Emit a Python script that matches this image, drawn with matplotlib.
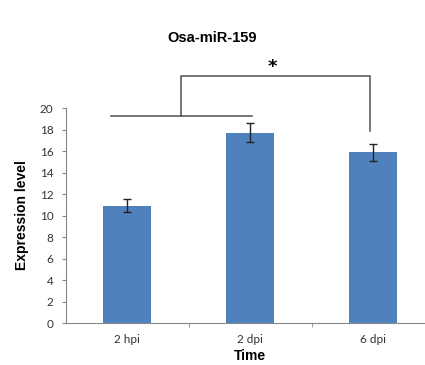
import matplotlib
matplotlib.use("Agg")
import matplotlib.pyplot as plt

# data
categories = ["2 hpi", "2 dpi", "6 dpi"]
expression = [10.9, 17.7, 15.9]
errors = [0.6, 0.9, 0.8]
yticks = list(range(0, 21, 2))

fig = plt.figure(figsize=(4.25, 3.65), dpi=100)
ax = fig.add_axes([0.155, 0.115, 0.868, 0.589])

x = list(range(len(categories)))
ax.bar(x, expression, width=0.39, color="#4F81BD", zorder=2)
ax.errorbar(x, expression, yerr=errors, fmt="none", ecolor="#222222",
            elinewidth=1.0, capsize=3, capthick=1.0, zorder=3)

ax.set_xlim(-0.5, 2.5)
ax.set_ylim(0, 20)
ax.set_yticks(yticks)
ax.set_xticks(x)
ax.set_xticklabels(categories, fontsize=8.5, family="Lato", color="#333333")
ax.set_xticks([0.5, 1.5], minor=True)
ax.tick_params(axis="x", which="major", length=0, pad=8)
ax.tick_params(axis="x", which="minor", length=3, color="#888888")
ax.tick_params(axis="y", length=3, color="#888888", labelsize=8.5, labelcolor="#333333", pad=6)
for lab in ax.get_yticklabels():
    lab.set_family("Lato")

for s in ["top", "right"]:
    ax.spines[s].set_visible(False)
for s in ["left", "bottom"]:
    ax.spines[s].set_color("#888888")
    ax.spines[s].set_linewidth(0.8)

ax.set_ylabel("Expression level", fontsize=10, fontweight="bold", family="Liberation Sans", labelpad=8)
ax.set_xlabel("Time", fontsize=10, fontweight="bold", family="Liberation Sans", labelpad=3)

# significance bracket
bc = "#505050"
ax.plot([-0.13, 1.01], [19.3, 19.3], color=bc, lw=1.1, clip_on=False)
ax.plot([0.44, 0.44, 1.97, 1.97], [19.3, 23.0, 23.0, 17.9], color=bc, lw=1.1, clip_on=False)
ax.text(1.18, 23.8, "*", ha="center", va="center", fontsize=13, fontweight="bold", clip_on=False)

fig.text(0.5, 0.895, "Osa-miR-159", ha="center", va="center", fontsize=10.5,
         fontweight="bold", family="Liberation Sans")

fig.savefig("out.png", dpi=100)
